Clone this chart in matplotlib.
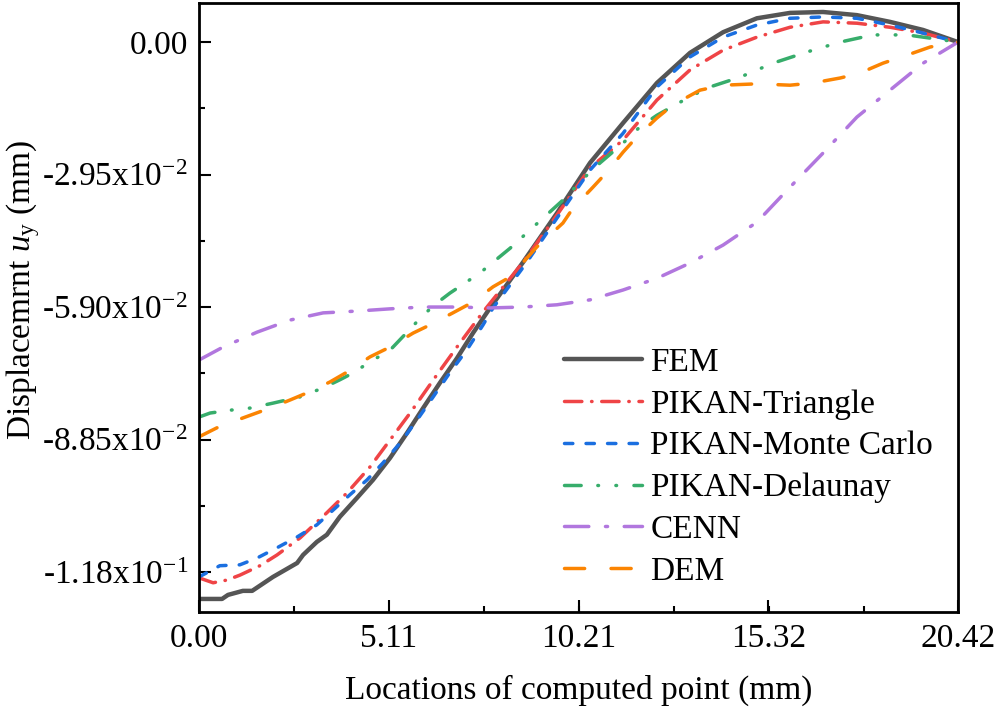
import numpy as np
import matplotlib
matplotlib.use("Agg")
import matplotlib.pyplot as plt
from matplotlib.ticker import FixedLocator, AutoMinorLocator

plt.rcParams['font.family'] = ['Liberation Serif', 'DejaVu Serif']
plt.rcParams['mathtext.fontset'] = 'custom'
plt.rcParams['mathtext.rm'] = 'Liberation Serif'
plt.rcParams['mathtext.it'] = 'Liberation Serif:italic'
plt.rcParams['lines.scale_dashes'] = False

# FEM reference
fem_x = [0, 0.62, 0.78, 1.18, 1.43, 1.99, 2.64, 2.80, 3.17, 3.44, 3.79, 4.25, 4.68, 5.14,
         5.60, 6.03, 6.48, 6.94, 7.37, 7.83, 8.72, 9.63, 10.52, 11.41, 12.32, 13.21, 14.10,
         15.01, 15.90, 16.79, 17.70, 18.59, 19.48, 20.42]
fem_y = [-0.1240, -0.1240, -0.1231, -0.1222, -0.1222, -0.1191, -0.1160, -0.1142, -0.1113,
         -0.1097, -0.1057, -0.1015, -0.0975, -0.0926, -0.0870, -0.0815, -0.0759, -0.0704,
         -0.0648, -0.0592, -0.0490, -0.0381, -0.0269, -0.0180, -0.0091, -0.0024, 0.0022,
         0.0053, 0.0065, 0.0067, 0.0060, 0.0045, 0.0027, 0.0]

# PIKAN-Triangle
tri_x = [0, 0.38, 0.75, 1.10, 1.64, 2.10, 2.72, 3.44, 3.98, 4.60, 5.14, 5.68, 6.40, 6.94,
         7.64, 8.72, 9.63, 10.52, 11.41, 12.32, 13.21, 14.10, 15.01, 15.90, 16.79, 17.70,
         18.59, 19.48, 20.42]
tri_y = [-0.1193, -0.1204, -0.1198, -0.1187, -0.1166, -0.1142, -0.1104, -0.1048, -0.1004,
         -0.0946, -0.0886, -0.0826, -0.0741, -0.0679, -0.0601, -0.0490, -0.0385, -0.0280,
         -0.0218, -0.0129, -0.0062, -0.0018, 0.0011, 0.0033, 0.0045, 0.0042, 0.0033, 0.0020, 0.0]

# PIKAN-Monte Carlo
mc_x = [0, 0.56, 1.10, 1.56, 2.10, 2.64, 3.17, 3.61, 4.06, 4.52, 4.95, 5.41, 5.87, 6.30,
        6.75, 7.21, 7.64, 7.91, 8.77, 9.63, 10.52, 11.41, 12.32, 13.21, 14.10, 15.01, 15.90,
        16.79, 17.70, 18.59, 19.48, 20.42]
mc_y = [-0.1191, -0.1166, -0.1164, -0.1149, -0.1126, -0.1102, -0.1075, -0.1042, -0.1008,
        -0.0975, -0.0937, -0.0893, -0.0841, -0.0790, -0.0736, -0.0685, -0.0630, -0.0592,
        -0.0496, -0.0392, -0.0285, -0.0203, -0.0100, -0.0033, 0.0011, 0.0038, 0.0053,
        0.0056, 0.0053, 0.0038, 0.0020, 0.0]

# PIKAN-Delaunay
del_x = [0, 0.30, 0.91, 1.37, 1.99, 2.72, 3.34, 3.79, 4.14, 4.60, 5.14, 5.60, 6.03, 6.40,
         6.75, 7.56, 8.37, 8.99, 9.79, 10.44, 10.79, 11.41, 11.86, 12.32, 12.94, 13.67,
         14.56, 15.44, 16.36, 17.25, 18.13, 19.05, 19.48, 20.42]
del_y = [-0.0835, -0.0826, -0.0819, -0.0815, -0.0804, -0.0790, -0.0770, -0.0752, -0.0737,
         -0.0712, -0.0686, -0.0646, -0.0608, -0.0581, -0.0559, -0.0514, -0.0459, -0.0412,
         -0.0352, -0.0296, -0.0269, -0.0225, -0.0189, -0.0163, -0.0134, -0.0102, -0.0078,
         -0.0047, -0.0022, 0.0, 0.0016, 0.0016, 0.0011, 0.0]

# CENN
cenn_x = [0, 0.65, 1.56, 2.45, 3.34, 4.25, 5.14, 6.03, 6.94, 7.83, 8.72, 9.63, 10.52,
          11.41, 12.32, 13.21, 14.10, 15.01, 15.90, 16.79, 17.70, 18.59, 19.48, 20.42]
cenn_y = [-0.0708, -0.0679, -0.0646, -0.0619, -0.0603, -0.0599, -0.0594, -0.0590, -0.0590,
          -0.0592, -0.0590, -0.0585, -0.0574, -0.0552, -0.0526, -0.0492, -0.0452, -0.0401,
          -0.0323, -0.0247, -0.0167, -0.0107, -0.0047, 0.0]

# DEM
dem_x = [0, 0.48, 1.18, 1.91, 2.45, 2.91, 3.52, 3.98, 4.60, 5.14, 5.76, 6.21, 6.83, 7.37,
         7.91, 8.37, 9.09, 9.79, 10.06, 10.60, 10.98, 11.41, 11.78, 12.32, 12.75, 13.48,
         14.10, 15.01, 15.90, 16.52, 17.25, 17.78, 18.40, 19.05, 19.67, 20.42]
dem_y = [-0.0879, -0.0859, -0.0837, -0.0815, -0.0797, -0.0781, -0.0757, -0.0735, -0.0701,
         -0.0679, -0.0648, -0.0630, -0.0603, -0.0579, -0.0545, -0.0523, -0.0456, -0.0403,
         -0.0370, -0.0323, -0.0289, -0.0245, -0.0211, -0.0169, -0.0140, -0.0107, -0.0096,
         -0.0093, -0.0096, -0.0091, -0.0080, -0.0069, -0.0047, -0.0029, -0.0011, 0.0]

xticks = [0.0, 5.11, 10.21, 15.32, 20.42]
xtick_labels = ["0.00", "5.11", "10.21", "15.32", "20.42"]
yticks = [0.0, -0.0295, -0.059, -0.0885, -0.118]
ytick_labels = ["0.00", r"-2.95x10$^{\mathregular{-2}}$", r"-5.90x10$^{\mathregular{-2}}$",
                r"-8.85x10$^{\mathregular{-2}}$", r"-1.18x10$^{\mathregular{-1}}$"]

fs = 24

fig = plt.figure(figsize=(9.97, 7.16), dpi=100)
ax = fig.add_axes([0.1996, 0.1453, 0.7613, 0.8505])

lw = 2.5
ax.plot(fem_x, fem_y, color="#555555", lw=3.2, label="FEM", solid_capstyle="round")
ax.plot(tri_x, tri_y, color="#ef4446", lw=lw, dashes=(12.5, 7, 0.3, 7),
        dash_capstyle="round", label="PIKAN-Triangle")
ax.plot(mc_x, mc_y, color="#1b6fe0", lw=lw, dashes=(6, 9.5),
        dash_capstyle="round", label="PIKAN-Monte Carlo")
ax.plot(del_x, del_y, color="#37ad6b", lw=lw, dashes=(12, 12, 0.5, 12.5, 0.5, 12.5),
        dash_capstyle="round", label="PIKAN-Delaunay")
ax.plot(cenn_x, cenn_y, color="#b177de", lw=lw, dashes=(17.5, 12, 1.5, 12),
        dash_capstyle="round", label="CENN")
ax.plot(dem_x, dem_y, color="#fb8402", lw=lw, dashes=(14.5, 19),
        dash_capstyle="round", label="DEM")

ax.set_xlim(0, 20.42)
ax.set_ylim(-0.1269, 0.0087)
ax.xaxis.set_major_locator(FixedLocator(xticks))
ax.set_xticklabels(xtick_labels)
ax.xaxis.set_minor_locator(AutoMinorLocator(2))
ax.yaxis.set_major_locator(FixedLocator(yticks))
ax.set_yticklabels(ytick_labels)
ax.yaxis.set_minor_locator(FixedLocator([-0.01475, -0.04425, -0.07375, -0.10325]))

ax.tick_params(which="both", direction="in", labelsize=fs, width=1.5, pad=8)
ax.tick_params(which="major", length=8.5)
ax.tick_params(which="minor", length=4.5)
for sp in ax.spines.values():
    sp.set_linewidth(2)

ax.set_xlabel("Locations of computed point (mm)", fontsize=fs, labelpad=15)
ax.set_ylabel(r"Displacemrnt $u_{\mathregular{y}}$ (mm)", fontsize=fs)
ax.yaxis.set_label_coords(-0.207, 0.529)

ax.legend(loc="lower right", bbox_to_anchor=(1.0, 0.0), frameon=False, fontsize=fs,
          handlelength=2.35, handletextpad=0.25, labelspacing=0.34, borderaxespad=0.35)

fig.savefig("out.png", dpi=100)
